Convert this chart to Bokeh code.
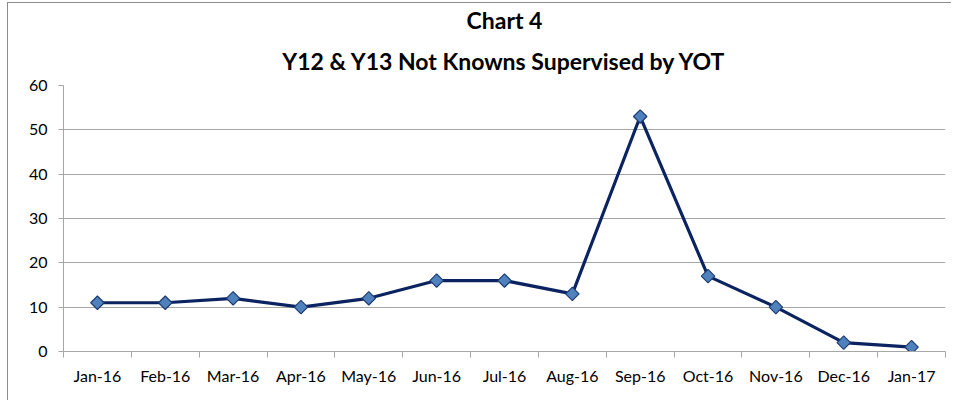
import math
from bokeh.plotting import figure
from bokeh.models import FixedTicker, Range1d, Title, ColumnDataSource
from bokeh.embed import file_html
from bokeh.resources import INLINE

months = ["Jan-16", "Feb-16", "Mar-16", "Apr-16", "May-16", "Jun-16", "Jul-16",
          "Aug-16", "Sep-16", "Oct-16", "Nov-16", "Dec-16", "Jan-17"]
counts = [11, 11, 12, 10, 12, 16, 16, 13, 53, 17, 10, 2, 1]
y_ticks = [0, 10, 20, 30, 40, 50, 60]
title_line1 = "Chart 4"
title_line2 = "Y12 & Y13 Not Knowns Supervised by YOT"

FONT = "Lato"
GRID = "#a6a6a6"

xs = list(range(len(months)))
src = ColumnDataSource(dict(x=xs, y=counts, m=months))

p = figure(width=944, height=398, output_backend="svg", toolbar_location=None,
           x_range=Range1d(-0.5, len(months) - 0.5), y_range=Range1d(0, 60),
           min_border_left=55, min_border_right=7, min_border_bottom=50, min_border_top=82,
           title=None, margin=(2, 0, 0, 7),
           styles={"border-left": "1px solid #8c8c8c", "border-top": "1px solid #8c8c8c"})

p.add_layout(Title(text=title_line2, align="center", text_font=FONT, text_font_size="23px",
                   text_font_style="bold", text_color="#000000", standoff=22), "above")
p.add_layout(Title(text=title_line1, align="center", text_font=FONT, text_font_size="23px",
                   text_font_style="bold", text_color="#000000", standoff=0), "above")

p.outline_line_color = None
p.background_fill_color = "white"
p.border_fill_color = "white"

# grid
p.xgrid.grid_line_color = None
p.ygrid.ticker = FixedTicker(ticks=y_ticks)
p.ygrid.grid_line_color = GRID
p.ygrid.grid_line_width = 1

# y axis
p.yaxis.ticker = FixedTicker(ticks=y_ticks)
p.yaxis.axis_line_color = GRID
p.yaxis.major_tick_line_color = GRID
p.yaxis.major_tick_in = 0
p.yaxis.major_tick_out = 5
p.yaxis.minor_tick_line_color = None
p.yaxis.major_label_text_font = FONT
p.yaxis.major_label_text_font_size = "16px"
p.yaxis.major_label_text_color = "#000000"
p.yaxis.major_label_standoff = 11

# x axis: labels at category centres, tick marks between categories
bounds = [i - 0.5 for i in range(len(months) + 1)]
p.xaxis.ticker = FixedTicker(ticks=xs, minor_ticks=bounds)
p.xaxis.major_label_overrides = {i: m for i, m in enumerate(months)}
p.xaxis.axis_line_color = GRID
p.xaxis.major_tick_line_color = None
p.xaxis.minor_tick_line_color = GRID
p.xaxis.minor_tick_in = 0
p.xaxis.minor_tick_out = 6
p.xaxis.major_label_text_font = FONT
p.xaxis.major_label_text_font_size = "16px"
p.xaxis.major_label_text_color = "#000000"
p.xaxis.major_label_standoff = 8

p.line("x", "y", source=src, line_color="#0b2461", line_width=3.2)
p.scatter("x", "y", source=src, marker="square", size=9.5, angle=math.pi / 4,
          fill_color="#4f81bd", line_color="#1f3c73", line_width=1.2)

open("out.html", "w").write(file_html(p, INLINE))
